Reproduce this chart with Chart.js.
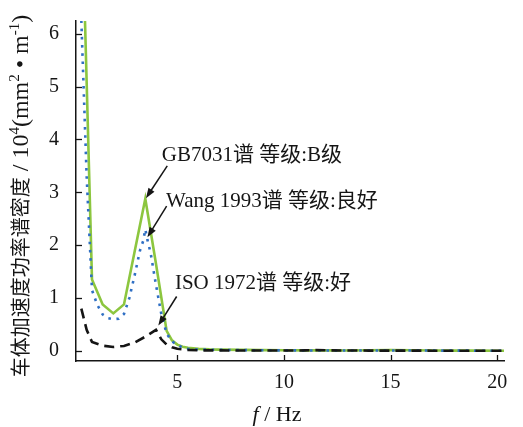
<!DOCTYPE html>
<html>
<head>
<meta charset="utf-8">
<script src="https://cdn.jsdelivr.net/npm/chart.js@4/dist/chart.umd.min.js"></script>
<style>
  html, body { margin: 0; padding: 0; background: #fff; }
  #wrap { width: 523px; height: 427px; position: relative; }
</style>
</head>
<body>
<div id="wrap"><canvas id="psdChart"></canvas></div>
<script>
// Road spectra: frequency (Hz) and car-body acceleration PSD (10^4 mm^2/m)
const gbFreq = [0.5, 1, 1.5, 2, 2.5, 3, 3.5, 4, 4.5, 4.75, 5, 5.25, 5.5, 6, 6.5, 7, 8, 9, 10, 11, 12, 13, 14, 15, 16, 17, 18, 19, 20, 20.5];
const gbPsd  = [8.8, 1.35, 0.88, 0.71, 0.88, 1.88, 2.88, 1.65, 0.38, 0.2, 0.12, 0.08, 0.06, 0.04, 0.03, 0.025, 0.02, 0.016, 0.013, 0.011, 0.01, 0.009, 0.012, 0.016, 0.013, 0.008, 0.007, 0.006, 0.005, 0.005];

const wangFreq = [0.5, 0.75, 1, 1.25, 1.5, 1.75, 2, 2.25, 2.5, 2.75, 3, 3.25, 3.4, 3.5, 3.6, 3.75, 4, 4.25, 4.5, 4.75, 5, 5.25, 5.5, 6, 7, 8, 9, 10, 11, 12, 13, 14, 15, 16, 17, 18, 19, 20, 20.5];
const wangPsd  = [6.25, 3.3, 1.15, 0.87, 0.69, 0.62, 0.6, 0.61, 0.7, 1.0, 1.43, 1.9, 2.08, 2.3, 2.1, 1.85, 1.25, 0.7, 0.33, 0.18, 0.12, 0.06, 0.04, 0.028, 0.02, 0.016, 0.013, 0.011, 0.01, 0.009, 0.008, 0.008, 0.01, 0.009, 0.007, 0.006, 0.005, 0.005, 0.005];

const isoFreq = [0.5, 0.75, 1, 1.5, 2, 2.5, 3, 3.5, 4, 4.25, 4.5, 4.75, 5, 5.5, 6, 7, 8, 9, 10, 11, 11.5, 12, 13, 14, 15, 16, 17, 18, 19, 20, 20.5];
const isoPsd  = [0.8, 0.4, 0.17, 0.1, 0.075, 0.095, 0.16, 0.27, 0.4, 0.22, 0.12, 0.07, 0.04, 0.02, 0.012, 0.01, 0.008, 0.008, 0.008, 0.01, 0.015, 0.012, 0.008, 0.007, 0.007, 0.006, 0.005, 0.005, 0.004, 0.004, 0.004];

const xTicks = [5, 10, 15, 20];
const yTicks = [0, 1, 2, 3, 4, 5, 6];

// callouts: label start, arrow tail and arrow tip, all in data units
const callouts = [
  { text: 'GB7031谱 等级:B级',       label: [4.27, 3.6],  tail: [4.53, 3.5],  tip: [3.53, 2.89] },
  { text: 'Wang 1993谱 等级:良好',   label: [4.47, 2.72], tail: [4.5, 2.74],  tip: [3.6, 2.15] },
  { text: 'ISO 1972谱 等级:好',      label: [4.89, 1.17], tail: [4.97, 1.03], tip: [4.11, 0.48] }
];

const toPoints = (xs, ys) => xs.map((x, i) => ({ x: x, y: ys[i] }));

const SERIF = '"Liberation Serif", "Noto Sans CJK SC"';
const INK = '#151515';

function arrow(ctx, x1, y1, x2, y2) {
  const a = Math.atan2(y2 - y1, x2 - x1);
  const len = 10, half = 3.6;
  ctx.beginPath();
  ctx.moveTo(x1, y1);
  ctx.lineTo(x2 - Math.cos(a) * len * 0.8, y2 - Math.sin(a) * len * 0.8);
  ctx.stroke();
  ctx.beginPath();
  ctx.moveTo(x2, y2);
  ctx.lineTo(x2 - Math.cos(a) * len + Math.sin(a) * half, y2 - Math.sin(a) * len - Math.cos(a) * half);
  ctx.lineTo(x2 - Math.cos(a) * len - Math.sin(a) * half, y2 - Math.sin(a) * len + Math.cos(a) * half);
  ctx.closePath();
  ctx.fill();
}

// draws runs of text with their own font and baseline shift, centred on x
function richText(ctx, runs, x, y) {
  let total = 0;
  runs.forEach(r => { ctx.font = r.font; total += ctx.measureText(r.t).width; });
  let cx = x - total / 2;
  runs.forEach(r => {
    ctx.font = r.font;
    ctx.fillText(r.t, cx, y - (r.rise || 0));
    cx += ctx.measureText(r.t).width;
  });
}

const decorations = {
  id: 'decorations',
  afterDraw(chart) {
    const ctx = chart.ctx;
    const xs = chart.scales.x, ys = chart.scales.y;
    const area = chart.chartArea;
    ctx.save();
    ctx.strokeStyle = INK;
    ctx.fillStyle = INK;

    // inward tick marks
    ctx.lineWidth = 1.3;
    ys.ticks.forEach(t => {
      const py = Math.round(ys.getPixelForValue(t.value)) + 0.5;
      ctx.beginPath(); ctx.moveTo(area.left, py); ctx.lineTo(area.left + 6, py); ctx.stroke();
    });
    xs.ticks.forEach(t => {
      const px = Math.round(xs.getPixelForValue(t.value)) + 0.5;
      ctx.beginPath(); ctx.moveTo(px, area.bottom); ctx.lineTo(px, area.bottom - 6); ctx.stroke();
    });

    // callout labels with arrows
    ctx.lineWidth = 1.5;
    ctx.textBaseline = 'alphabetic';
    ctx.textAlign = 'left';
    callouts.forEach(c => {
      ctx.font = '21px ' + SERIF;
      ctx.fillText(c.text, xs.getPixelForValue(c.label[0]), ys.getPixelForValue(c.label[1]));
      arrow(ctx,
        xs.getPixelForValue(c.tail[0]), ys.getPixelForValue(c.tail[1]),
        xs.getPixelForValue(c.tip[0]), ys.getPixelForValue(c.tip[1]));
    });

    // x axis title: italic f / Hz
    const xt = [
      { t: 'f', font: 'italic 22px "Liberation Serif"' },
      { t: ' / Hz', font: '22px "Liberation Serif"' }
    ];
    richText(ctx, xt, 277, 421);

    // y axis title, rotated
    const latin = '24px "Liberation Serif"';
    const sup = '15px "Liberation Serif"';
    const yt = [
      { t: '车体加速度功率谱密度', font: '20px "Noto Sans CJK SC"' },
      { t: ' / 10', font: latin },
      { t: '4', font: sup, rise: 9 },
      { t: '(mm', font: latin },
      { t: '2', font: sup, rise: 9 },
      { t: ' • m', font: latin },
      { t: '-1', font: sup, rise: 9 },
      { t: ')', font: latin }
    ];
    ctx.translate(28, 196);
    ctx.rotate(-Math.PI / 2);
    richText(ctx, yt, 0, 0);
    ctx.restore();
  }
};

const tickFont = { family: '"Liberation Serif"', size: 20 };

new Chart(document.getElementById('psdChart'), {
  type: 'line',
  data: {
    datasets: [
      {
        label: 'ISO 1972谱',
        data: toPoints(isoFreq, isoPsd),
        borderColor: '#151515',
        borderWidth: 2.6,
        borderDash: [10, 6],
        pointRadius: 0,
        tension: 0,
        clip: 0
      },
      {
        label: 'Wang 1993谱',
        data: toPoints(wangFreq, wangPsd),
        borderColor: '#2f6fc4',
        borderWidth: 2.6,
        borderDash: [2.6, 5.6],
        pointRadius: 0,
        tension: 0,
        clip: 0
      },
      {
        label: 'GB7031谱',
        data: toPoints(gbFreq, gbPsd),
        borderColor: '#8cc63f',
        borderWidth: 2.6,
        pointRadius: 0,
        tension: 0,
        clip: 0
      }
    ]
  },
  options: {
    responsive: true,
    maintainAspectRatio: false,
    animation: false,
    layout: { padding: { top: 14, right: 19, left: 0, bottom: 0 } },
    plugins: { legend: { display: false }, tooltip: { enabled: false } },
    scales: {
      x: {
        type: 'linear',
        min: 0.25,
        max: 20.32,
        grid: { display: false },
        border: { color: INK, width: 1.5 },
        ticks: { font: tickFont, color: INK, padding: 2, maxRotation: 0 },
        afterBuildTicks(scale) { scale.ticks = xTicks.map(v => ({ value: v })); },
        afterFit(scale) { scale.height = 66; }
      },
      y: {
        min: -0.19,
        max: 6.24,
        grid: { display: false },
        border: { color: INK, width: 1.5 },
        ticks: { font: tickFont, color: INK, padding: 9 },
        afterBuildTicks(scale) { scale.ticks = yTicks.map(v => ({ value: v })); },
        afterFit(scale) { scale.width = 76; }
      }
    }
  },
  plugins: [decorations]
});
</script>
</body>
</html>
